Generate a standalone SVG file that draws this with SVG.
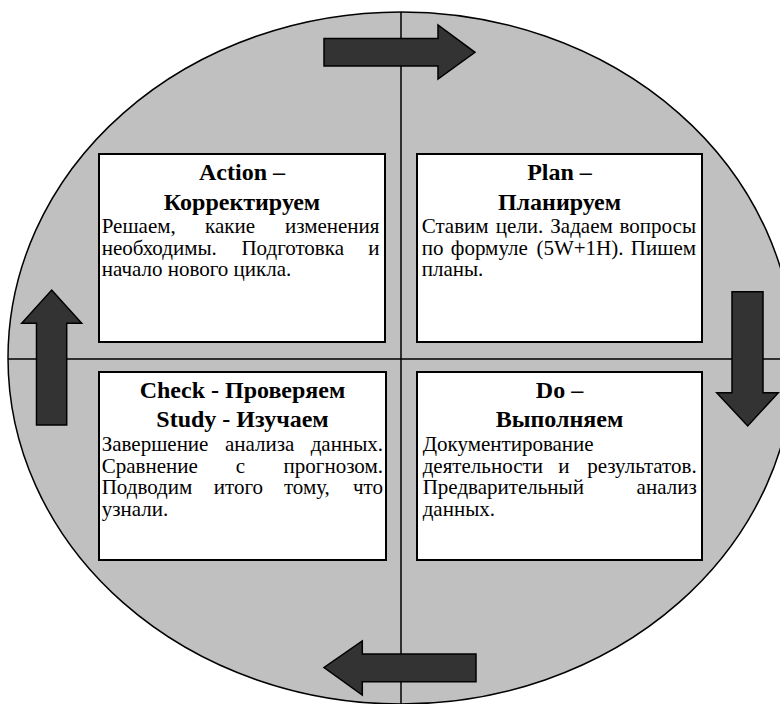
<svg xmlns="http://www.w3.org/2000/svg" width="780" height="704" viewBox="0 0 780 704">
<style>
.bg{fill:#c0c0c0;stroke:#000;stroke-width:1.5}
.ln{stroke:#000;stroke-width:1.5;fill:none}
.box{fill:#fff;stroke:#000;stroke-width:2}
.arr{fill:#333333;stroke:#000;stroke-width:1.5;stroke-linejoin:miter}
.t{font-family:"Liberation Serif","Times New Roman",serif;font-size:24px;font-weight:bold;text-anchor:middle;fill:#000}
.b{font-family:"Liberation Serif","Times New Roman",serif;font-size:21px;fill:#000}
.e{text-anchor:end}
</style>
<ellipse class="bg" cx="401" cy="358" rx="393" ry="346"/>
<g id="axes">
<line class="ln" x1="401" y1="12" x2="401" y2="704"/>
<line class="ln" x1="8" y1="359" x2="780" y2="359"/>
</g>
<g id="action">
<rect class="box" x="99" y="154" width="286" height="188"/>
<text class="t" x="242" y="180">Action –</text>
<text class="t" x="242" y="209.5">Корректируем</text>
<text class="b" x="101.7" y="233">Решаем,</text>
<text class="b" x="205" y="233">какие</text>
<text class="b e" x="379.5" y="233">изменения</text>
<text class="b" x="101.7" y="254.5">необходимы.</text>
<text class="b" x="241.4" y="254.5">Подготовка</text>
<text class="b e" x="379.5" y="254.5">и</text>
<text class="b" x="101.7" y="276">начало нового цикла.</text>
</g>
<g id="plan">
<rect class="box" x="417" y="154" width="285" height="188"/>
<text class="t" x="559.5" y="180">Plan –</text>
<text class="t" x="559.5" y="209.5">Планируем</text>
<text class="b" x="421.7" y="233">Ставим</text>
<text class="b" x="495.7" y="233">цели.</text>
<text class="b" x="550.3" y="233">Задаем</text>
<text class="b e" x="696" y="233">вопросы</text>
<text class="b" x="421.7" y="254.5">по</text>
<text class="b" x="450.8" y="254.5">формуле</text>
<text class="b" x="536.4" y="254.5">(5W+1H).</text>
<text class="b e" x="696" y="254.5">Пишем</text>
<text class="b" x="421.7" y="276">планы.</text>
</g>
<g id="check">
<rect class="box" x="99" y="372" width="287" height="188"/>
<text class="t" x="242.5" y="398">Check - Проверяем</text>
<text class="t" x="242.5" y="427">Study - Изучаем</text>
<text class="b" x="101.7" y="451">Завершение</text>
<text class="b" x="225" y="451">анализа</text>
<text class="b e" x="383" y="451">данных.</text>
<text class="b" x="101.7" y="472.5">Сравнение</text>
<text class="b" x="235.8" y="472.5">с</text>
<text class="b e" x="383" y="472.5">прогнозом.</text>
<text class="b" x="101.7" y="494">Подводим</text>
<text class="b" x="213.8" y="494">итого</text>
<text class="b" x="283.9" y="494">тому,</text>
<text class="b e" x="383" y="494">что</text>
<text class="b" x="101.7" y="515.5">узнали.</text>
</g>
<g id="do">
<rect class="box" x="417" y="372" width="285" height="188"/>
<text class="t" x="559.5" y="398">Do –</text>
<text class="t" x="559.5" y="427">Выполняем</text>
<text class="b" x="422.7" y="451">Документирование</text>
<text class="b" x="422.7" y="472.5">деятельности</text>
<text class="b" x="558.2" y="472.5">и</text>
<text class="b e" x="696.7" y="472.5">результатов.</text>
<text class="b" x="422.7" y="494">Предварительный</text>
<text class="b e" x="696.7" y="494">анализ</text>
<text class="b" x="422.7" y="515.5">данных.</text>
</g>
<g id="connectors">
<polygon class="arr" points="324,38.5 438,38.5 438,25 475,52.3 438,79 438,66 324,66"/>
<polygon class="arr" points="732,291.7 763,291.7 763,392.7 778.3,392.7 747.7,426 716.7,392.7 732,392.7"/>
<polygon class="arr" points="476,654 362.3,654 362.3,641 324,667.5 362.3,695 362.3,681.7 476,681.7"/>
<polygon class="arr" points="36.5,425 66.7,425 66.7,323.3 81.7,323.3 51.7,290 21.7,323.3 36.5,323.3"/>
</g>
</svg>
